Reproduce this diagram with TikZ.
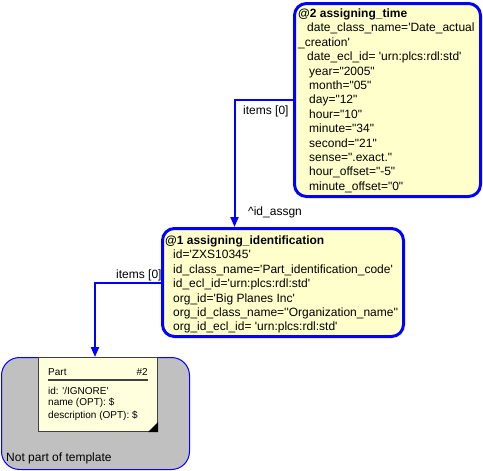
\documentclass[tikz,border=0pt]{standalone}
\usepackage{fontspec}
\setmainfont{Liberation Sans}[Ligatures=TeXOff]
\usetikzlibrary{arrows.meta,calc}
\definecolor{boxfill}{RGB}{255,255,204}
\definecolor{partfill}{RGB}{255,255,221}
\definecolor{greyfill}{RGB}{192,192,192}
\definecolor{lineblue}{RGB}{0,0,255}
\definecolor{partline}{RGB}{64,64,64}
\begin{document}
\begin{tikzpicture}[x=1pt,y=-1pt,
  tplbox/.style={draw=lineblue, line width=3pt, fill=boxfill, rounded corners=12pt, inner sep=0pt, rectangle},
  greybox/.style={draw=lineblue, line width=1pt, fill=greyfill, rounded corners=18pt, inner sep=0pt, rectangle},
  partbox/.style={draw=partline, line width=1pt, fill=partfill, inner sep=0pt, rectangle},
  boxtext/.style={anchor=north west, inner sep=0pt, align=left, font=\fontsize{12}{14.4}\selectfont},
  lbl/.style={anchor=west, inner sep=0pt, font=\fontsize{12}{14.4}\selectfont},
  parttext/.style={anchor=west, inner sep=0pt, font=\fontsize{10}{12}\selectfont},
  conn/.style={draw=lineblue, line width=2pt, -{Triangle[width=8pt,length=10pt]}}
]
\useasboundingbox (0,0) rectangle (483,471);

% not part of template
\node[greybox, minimum width=188pt, minimum height=112pt] (grey) at (95.5,413.5) {};
\node[lbl] (greylbl) at (6,458) {Not part of template};

% Part box
\node[partbox, minimum width=119pt, minimum height=74pt] (part) at (98,394.5) {};
\node[parttext] (parttitle) at (48,372) {Part};
\node[parttext, anchor=east] (partnum) at (148,372) {\#2};
\draw[partline, line width=1.6pt] (parttitle.south west |- 0,380) -- (partnum.south east |- 0,380);
\node[parttext] (pid) at (48,391) {id: '/IGNORE'};
\node[parttext] (pname) at (48,403) {name (OPT): \$};
\node[parttext] (pdesc) at (48,415.5) {description (OPT): \$};
\fill[black] ([xshift=-10pt]part.south east) -- (part.south east) -- ([yshift=10pt]part.south east) -- cycle;

% @2 box
\node[tplbox, minimum width=186pt, minimum height=193pt] (n2) at (387.5,100) {};
\node[boxtext] (t2) at (298,8.7) {\textbf{@2 assigning\_time}\\
\hspace*{9pt}date\_class\_name='Date\_actual\\
\_creation'\\
\hspace*{9pt}date\_ecl\_id= 'urn:plcs:rdl:std'\\
\hspace*{11pt}year="2005"\\
\hspace*{11pt}month="05"\\
\hspace*{11pt}day="12"\\
\hspace*{11pt}hour="10"\\
\hspace*{11pt}minute="34"\\
\hspace*{11pt}second="21"\\
\hspace*{11pt}sense=".exact."\\
\hspace*{11pt}hour\_offset="-5"\\
\hspace*{11pt}minute\_offset="0"};

% @1 box
\node[tplbox, minimum width=241pt, minimum height=108pt] (n1) at (283,282.5) {};
\node[boxtext] (t1) at (165,235.7) {\textbf{@1 assigning\_identification}\\
\hspace*{8pt}id='ZXS10345'\\
\hspace*{8pt}id\_class\_name='Part\_identification\_code'\\
\hspace*{8pt}id\_ecl\_id='urn:plcs:rdl:std'\\
\hspace*{8pt}org\_id='Big Planes Inc'\\
\hspace*{8pt}org\_id\_class\_name=''Organization\_name''\\
\hspace*{8pt}org\_id\_ecl\_id= 'urn:plcs:rdl:std'};

% connectors
\draw[conn] (n2.west) -| ([xshift=73.5pt]n1.north west);
\node[lbl] (l1) at (243,111) {items [0]};
\node[lbl] (l2) at (248,212) {\textasciicircum id\_assgn};

\draw[conn] (n1.west) -| ([xshift=57pt]part.north west);
\node[lbl] (l3) at (116,275.5) {items [0]};
\end{tikzpicture}
\end{document}
